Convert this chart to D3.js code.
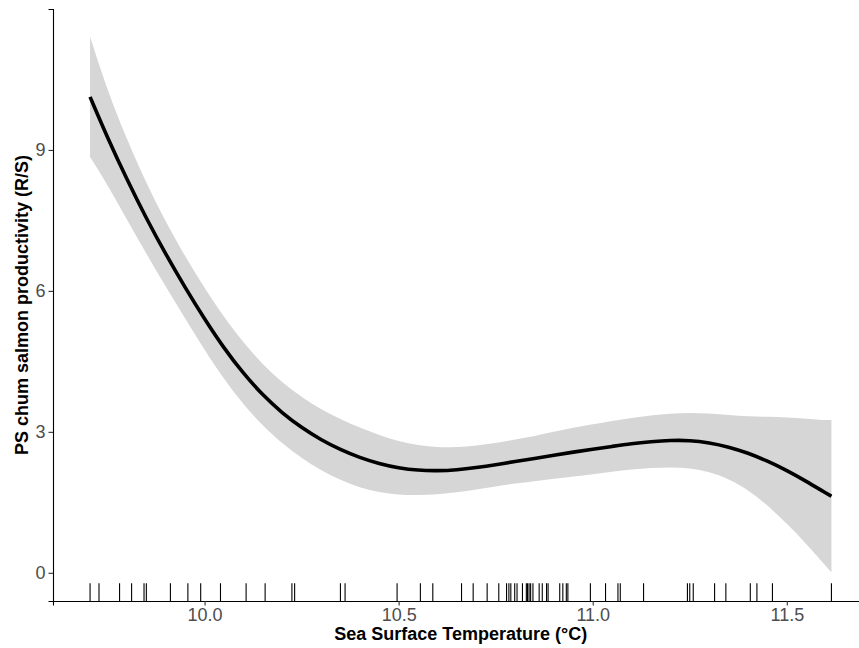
<!DOCTYPE html>
<html>
<head>
<meta charset="utf-8">
<script src="https://cdn.jsdelivr.net/npm/d3@7"></script>
<style>
body{margin:0;background:#fff}
text{font-family:"Liberation Sans",Arial,sans-serif}
</style>
</head>
<body>
<script>
// smooth fit (GAM)
var sst=[9.705,9.75,9.8,9.85,9.9,9.95,10.0,10.05,10.1,10.15,10.2,10.25,10.3,10.35,10.4,10.45,10.5,10.55,10.6,10.65,10.7,10.75,10.8,10.85,10.9,10.95,11.0,11.05,11.1,11.15,11.2,11.25,11.3,11.35,11.4,11.45,11.5,11.55,11.6,11.615]
var fit=[10.13,9.26,8.37,7.54,6.78,6.07,5.40,4.78,4.24,3.78,3.40,3.09,2.83,2.62,2.45,2.32,2.23,2.18,2.17,2.19,2.24,2.30,2.37,2.43,2.50,2.57,2.63,2.69,2.75,2.79,2.82,2.82,2.77,2.68,2.55,2.38,2.18,1.95,1.70,1.63]
var lower=[8.85,8.26,7.52,6.79,6.09,5.41,4.74,4.12,3.58,3.13,2.75,2.44,2.18,1.97,1.81,1.71,1.66,1.65,1.67,1.71,1.77,1.84,1.90,1.95,2.00,2.05,2.10,2.15,2.20,2.23,2.25,2.23,2.15,2.00,1.77,1.44,1.05,0.62,0.15,0.01]
var upper=[11.41,10.26,9.22,8.29,7.47,6.73,6.06,5.44,4.90,4.43,4.05,3.74,3.48,3.27,3.09,2.93,2.80,2.71,2.67,2.67,2.71,2.76,2.84,2.91,3.00,3.09,3.16,3.23,3.30,3.35,3.39,3.41,3.39,3.36,3.33,3.32,3.31,3.28,3.25,3.25]
// observed SST values (rug)
var rugSST=[9.705,9.728,9.781,9.812,9.844,9.850,9.912,9.957,9.990,10.041,10.107,10.156,10.225,10.232,10.350,10.362,10.496,10.556,10.588,10.662,10.692,10.728,10.758,10.778,10.784,10.789,10.799,10.805,10.819,10.829,10.832,10.836,10.840,10.846,10.862,10.870,10.881,10.885,10.915,10.923,10.932,10.936,10.994,11.033,11.065,11.071,11.131,11.244,11.250,11.259,11.314,11.343,11.406,11.423,11.463,11.615]
var xTicks=[10.0,10.5,11.0,11.5]
var yTicks=[0,3,6,9]
var xTitle="Sea Surface Temperature (°C)"
var yTitle="PS chum salmon productivity (R/S)"

var drawSmooth=function()
{
  var screen={width:859,height:648}
  var panel={left:53,right:868.5,top:9,bottom:601}
  var xScale=d3.scaleLinear()
               .domain([9.6095,11.7105])
               .range([panel.left,panel.right])
  var yScale=d3.scaleLinear()
               .domain([-0.6,12.0])
               .range([panel.bottom,panel.top])
  var svg=d3.select("body").append("svg")
            .attr("width",screen.width)
            .attr("height",screen.height)
  var points=sst.map(function(d,i){return {x:d,y:fit[i],lo:lower[i],hi:upper[i]};})

  var band=d3.area()
             .x(function(d){return xScale(d.x);})
             .y0(function(d){return yScale(d.lo);})
             .y1(function(d){return yScale(d.hi);})
             .curve(d3.curveBasis)
  svg.append("path")
     .datum(points)
     .attr("d",band)
     .attr("fill","#d6d6d6")

  var line=d3.line()
             .x(function(d){return xScale(d.x);})
             .y(function(d){return yScale(d.y);})
             .curve(d3.curveBasis)
  svg.append("path")
     .datum(points)
     .attr("d",line)
     .attr("fill","none")
     .attr("stroke","#000")
     .attr("stroke-width",3.6)

  // rug along the bottom
  var rugLen=0.03*(panel.bottom-panel.top)
  svg.append("g").selectAll("line")
     .data(rugSST)
     .enter()
     .append("line")
     .attr("x1",function(d){return xScale(d);})
     .attr("x2",function(d){return xScale(d);})
     .attr("y1",panel.bottom)
     .attr("y2",panel.bottom-rugLen)
     .attr("stroke","#000")
     .attr("stroke-width",1.1)

  var xAxis=svg.append("g")
               .attr("transform","translate(0,"+panel.bottom+")")
               .call(d3.axisBottom(xScale).tickValues(xTicks).tickFormat(d3.format(".1f")).tickSizeOuter(0).tickSize(4.5).tickPadding(3))
  var yAxis=svg.append("g")
               .attr("transform","translate("+panel.left+",0)")
               .call(d3.axisLeft(yScale).tickValues(yTicks).tickSizeOuter(0).tickSize(4.5).tickPadding(3))
  svg.selectAll(".domain").attr("stroke","#000").attr("stroke-width",1.1)
  svg.selectAll(".tick line").attr("stroke","#333").attr("stroke-width",1.1)
  svg.selectAll(".tick text")
     .attr("fill","#4d4d4d")
     .style("font-size","18px")
     .style("font-family","'Liberation Sans',Arial,sans-serif")

  svg.append("text")
     .attr("x",(panel.left+panel.right)/2)
     .attr("y",640)
     .attr("text-anchor","middle")
     .style("font-size","18px")
     .style("font-weight","bold")
     .text(xTitle)
  svg.append("text")
     .attr("transform","translate(28,"+((panel.top+panel.bottom)/2)+") rotate(-90)")
     .attr("text-anchor","middle")
     .style("font-size","18px")
     .style("font-weight","bold")
     .text(yTitle)
}
drawSmooth()
</script>
</body>
</html>
